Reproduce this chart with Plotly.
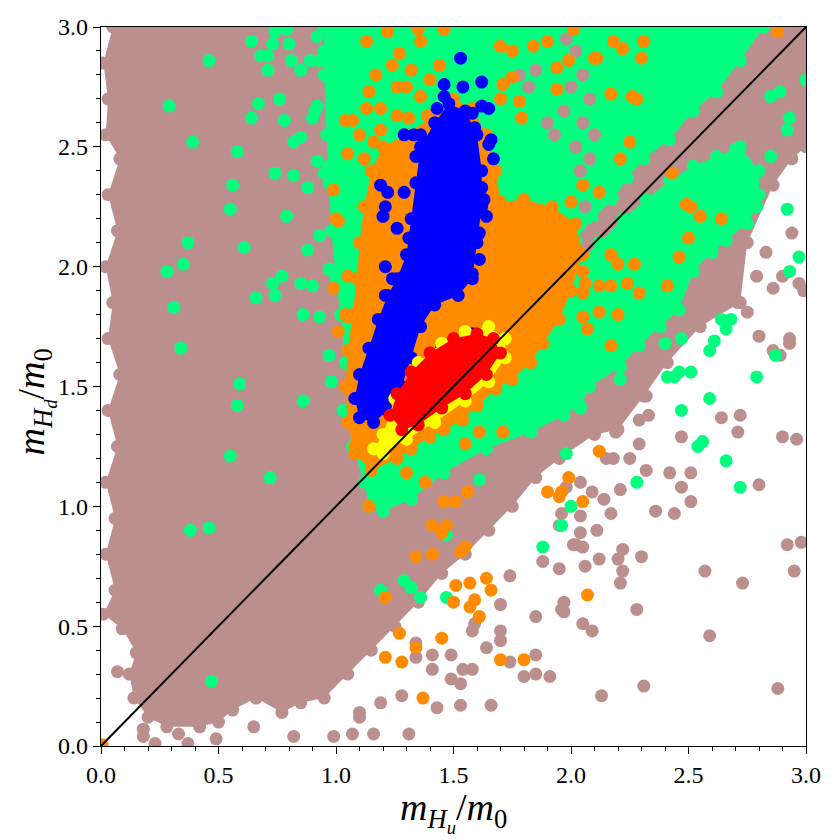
import plotly.graph_objects as go

# dense parts of each set, traced as outlines (x, y)
brown_cloud = [
    (0.05, 3.0), (0.01, 2.85), (0.03, 2.7), (0.02, 2.55), (0.08, 2.45), (0.03, 2.3),
    (0.07, 2.15), (0.02, 2.0), (0.05, 1.85), (0.03, 1.7), (0.08, 1.55), (0.03, 1.4),
    (0.07, 1.25), (0.02, 1.1), (0.06, 0.95), (0.02, 0.8), (0.06, 0.65), (0.01, 0.55),
    (0.09, 0.49), (0.15, 0.39), (0.12, 0.3), (0.14, 0.2), (0.2, 0.12), (0.28, 0.08),
    (0.42, 0.08), (0.5, 0.1), (0.56, 0.15), (0.66, 0.2), (0.77, 0.14), (0.85, 0.18),
    (0.95, 0.2), (1.05, 0.3), (1.15, 0.4), (1.25, 0.5), (1.35, 0.6), (1.45, 0.72),
    (1.55, 0.8), (1.65, 0.9), (1.75, 1.0), (1.85, 1.12), (1.95, 1.2), (2.1, 1.3),
    (2.2, 1.32), (2.31, 1.46), (2.41, 1.6), (2.55, 1.75), (2.72, 1.85), (2.75, 2.1),
    (2.86, 2.34), (2.94, 2.45), (3.0, 2.5), (3.0, 3.0),
]
green_cloud = [
    (0.95, 3.0), (2.82, 3.0), (2.72, 2.86), (2.62, 2.73), (2.52, 2.65), (2.42, 2.53),
    (2.31, 2.45), (2.24, 2.37), (2.18, 2.28), (2.09, 2.2), (2.02, 2.11), (1.97, 2.05),
    (1.98, 1.98), (2.02, 2.0), (2.12, 2.1), (2.22, 2.2), (2.32, 2.28), (2.42, 2.36),
    (2.52, 2.42), (2.62, 2.46), (2.72, 2.5), (2.8, 2.4), (2.8, 2.3), (2.79, 2.25),
    (2.75, 2.18), (2.66, 2.11), (2.6, 2.06), (2.52, 1.98), (2.46, 1.82), (2.38, 1.75),
    (2.29, 1.67), (2.21, 1.58), (2.08, 1.5), (2.04, 1.42), (1.97, 1.38), (1.83, 1.31),
    (1.64, 1.24), (1.46, 1.14), (1.32, 1.03), (1.2, 0.98), (1.14, 1.0), (1.12, 1.1),
    (1.07, 1.25), (1.05, 1.4), (1.04, 1.6), (1.02, 1.8), (1.0, 1.95), (0.98, 2.15),
    (0.97, 2.35), (0.96, 2.55), (0.95, 2.8),
]
orange_cloud = [
    (1.15, 1.15), (1.08, 1.22), (1.05, 1.35), (1.04, 1.5), (1.05, 1.65), (1.07, 1.8),
    (1.09, 1.95), (1.1, 2.1), (1.12, 2.25), (1.15, 2.4), (1.2, 2.5), (1.3, 2.55),
    (1.4, 2.62), (1.5, 2.7), (1.58, 2.66), (1.64, 2.55), (1.68, 2.4), (1.7, 2.27),
    (1.8, 2.28), (1.92, 2.25), (2.02, 2.18), (2.05, 2.05), (2.0, 1.9), (1.95, 1.78),
    (1.88, 1.68), (1.83, 1.6), (1.75, 1.53), (1.68, 1.49), (1.6, 1.42), (1.54, 1.36),
    (1.46, 1.32), (1.4, 1.29), (1.32, 1.24), (1.26, 1.2),
]
blue_cloud = [
    (1.1, 1.37), (1.16, 1.35), (1.22, 1.4), (1.28, 1.5), (1.32, 1.62), (1.36, 1.75),
    (1.42, 1.84), (1.52, 1.88), (1.58, 1.95), (1.6, 2.1), (1.62, 2.25), (1.62, 2.4),
    (1.6, 2.55), (1.55, 2.65), (1.48, 2.68), (1.42, 2.6), (1.36, 2.5), (1.34, 2.35),
    (1.32, 2.2), (1.3, 2.05), (1.26, 1.95), (1.22, 1.88), (1.18, 1.78), (1.14, 1.66),
    (1.1, 1.55), (1.08, 1.45),
]
yellow_cloud = [
    (1.16, 1.24), (1.2, 1.3), (1.25, 1.45), (1.35, 1.6), (1.45, 1.68), (1.55, 1.73),
    (1.65, 1.75), (1.72, 1.7), (1.72, 1.62), (1.65, 1.52), (1.55, 1.44), (1.42, 1.35),
    (1.3, 1.28), (1.2, 1.22),
]
red_cloud = [
    (1.23, 1.38), (1.26, 1.47), (1.32, 1.56), (1.4, 1.64), (1.5, 1.7), (1.6, 1.72),
    (1.67, 1.7), (1.7, 1.64), (1.64, 1.55), (1.55, 1.47), (1.45, 1.41), (1.35, 1.34),
    (1.28, 1.32),
]

# isolated points outside the dense parts
brown_pts = [
    (0.07, 0.31), (0.18, 0.04), (0.18, 0.07), (0.23, 0.01), (0.37, 0.01), (0.49, 0.03),
    (0.65, 0.08), (0.82, 0.04), (0.33, 0.05),
    (0.99, 0.04), (1.07, 0.05), (1.16, 0.05), (1.31, 0.05), (1.10, 0.12), (1.10, 0.14),
    (1.19, 0.18), (1.28, 0.21), (1.43, 0.16), (1.53, 0.17), (1.66, 0.17), (1.91, 0.29),
    (1.85, 0.30), (1.80, 0.29), (1.74, 0.35), (1.85, 0.38), (1.64, 0.41), (1.70, 0.44),
    (1.58, 0.32), (1.54, 0.32), (1.49, 0.28), (1.53, 0.26), (1.41, 0.32), (1.41, 0.38),
    (1.34, 0.37), (1.34, 0.43), (1.49, 0.38), (1.58, 0.48), (1.59, 0.51), (1.70, 0.48),
    (1.70, 0.59), (1.85, 0.54), (1.97, 0.56), (1.97, 0.60), (2.05, 0.51), (2.09, 0.48),
    (1.74, 0.71), (1.88, 0.77), (1.95, 0.74), (2.06, 0.75), (2.02, 0.84), (2.04, 0.89),
    (2.11, 0.90), (1.95, 0.92),
    (2.75, 1.81), (2.71, 1.85), (2.80, 1.71), (2.93, 1.70), (2.93, 1.68), (2.86, 1.65),
    (2.64, 1.37), (2.72, 1.38), (2.71, 1.31), (2.90, 1.29), (2.80, 1.09), (2.47, 1.29),
    (2.29, 1.26), (2.32, 1.15), (2.42, 1.14), (2.51, 1.14), (2.47, 1.08), (2.51, 1.02),
    (2.36, 0.98), (2.44, 0.97), (2.21, 1.07), (2.17, 0.97), (2.14, 1.03), (2.12, 0.78),
    (2.22, 0.82), (2.20, 0.78), (2.22, 0.73), (2.21, 0.68), (2.30, 0.79), (2.28, 0.57),
    (1.96, 0.57), (2.57, 0.73), (2.73, 0.68), (2.92, 0.84), (2.98, 0.85), (2.95, 0.73),
    (2.59, 0.46), (2.31, 0.25), (2.13, 0.21), (2.88, 0.24), (2.18, 1.20), (2.15, 1.20),
    (2.25, 1.20), (2.32, 1.46), (2.29, 1.36), (2.33, 1.38), (2.19, 1.31), (2.12, 1.33),
    (2.07, 1.35), (1.96, 1.34), (2.01, 0.84), (2.05, 0.83), (2.04, 0.96), (2.09, 1.06),
    (2.04, 1.10), (1.98, 1.08), (1.96, 0.97), (2.99, 1.90), (2.96, 1.28), (2.89, 1.63),
    (2.83, 2.06), (2.90, 1.96), (2.97, 1.93), (2.86, 1.91), (2.79, 1.96), (2.94, 2.14),
]
# brown showing through gaps of the green band at the top
brown_gaps = [
    (1.98, 2.95), (2.02, 2.90), (2.05, 2.80), (2.00, 2.75), (2.08, 2.70), (2.05, 2.60),
    (2.10, 2.55), (2.02, 2.50), (2.08, 2.45), (2.04, 2.40), (1.78, 2.80), (1.82, 2.75),
    (1.85, 2.82), (1.90, 2.60), (1.93, 2.55), (1.97, 2.65), (2.06, 2.25), (2.15, 2.22),
    (2.22, 2.26), (2.10, 2.16),
]
green_pts = [
    (0.46, 2.86), (0.29, 2.67), (0.39, 2.52), (0.58, 2.48), (0.56, 2.34), (0.55, 2.24),
    (0.37, 2.10), (0.61, 2.08), (0.35, 2.01), (0.28, 1.98), (0.31, 1.83), (0.66, 1.87),
    (0.74, 1.88), (0.73, 1.93), (0.77, 1.96), (0.85, 1.93), (0.90, 1.92), (0.79, 2.21),
    (0.74, 2.39), (0.82, 2.38), (0.88, 2.33), (0.88, 2.07), (0.93, 2.13), (0.97, 1.99),
    (0.86, 1.80), (0.93, 1.79), (0.64, 2.62), (0.67, 2.68), (0.76, 2.70), (0.78, 2.61),
    (0.64, 2.94), (0.68, 2.88), (0.71, 2.88), (0.74, 2.98), (0.79, 2.99), (0.73, 2.93),
    (0.80, 2.93), (0.71, 2.82), (0.81, 2.86), (0.85, 2.82), (0.89, 2.86), (0.82, 2.52),
    (0.85, 2.54), (0.92, 2.44), (0.90, 2.62), (0.92, 2.67), (0.93, 2.86), (0.95, 2.90),
    (0.92, 2.96), (0.97, 2.42), (0.95, 2.39), (0.91, 2.65),
    (0.34, 1.66), (0.59, 1.51), (0.58, 1.42), (0.86, 1.44), (0.55, 1.21), (0.72, 1.12),
    (0.38, 0.90), (0.46, 0.91), (0.97, 1.63), (0.98, 1.52), (1.03, 1.40), (0.47, 0.27),
    (1.98, 1.22), (1.61, 1.11), (2.0, 1.0), (1.96, 0.92), (1.88, 0.83), (1.47, 0.88),
    (1.29, 0.69), (1.32, 0.66), (1.19, 0.65), (1.36, 0.62), (1.47, 0.62),
    (2.64, 1.78), (2.68, 1.78), (2.66, 1.74), (2.61, 1.69), (2.59, 1.65), (2.47, 1.70),
    (2.40, 1.68), (2.51, 1.56), (2.46, 1.56), (2.41, 1.54), (2.44, 1.54), (2.59, 1.45),
    (2.47, 1.40), (2.87, 1.63), (2.79, 1.54), (2.56, 1.27), (2.54, 1.25), (2.66, 1.19),
    (2.72, 1.08), (2.28, 1.10), (2.04, 1.41), (2.21, 1.53),
    (2.92, 2.24), (2.97, 2.04), (2.93, 1.98), (2.85, 2.71), (2.89, 2.73), (2.93, 2.62),
    (2.92, 2.57), (3.0, 2.78), (2.85, 2.46), (2.70, 2.49),
]
orange_pts = [
    (0.005, 0.005),
    (1.14, 1.00), (1.38, 1.10), (1.56, 1.06), (1.46, 1.02), (1.51, 1.02), (1.30, 1.14),
    (1.41, 0.92), (1.47, 0.92), (1.45, 0.89), (1.55, 0.83), (1.53, 0.81), (1.41, 0.80),
    (1.34, 0.79), (1.51, 0.67), (1.57, 0.68), (1.64, 0.70), (1.66, 0.65), (1.50, 0.60),
    (1.59, 0.61), (1.57, 0.58), (1.61, 0.54), (1.21, 0.62), (1.27, 0.47), (1.34, 0.41),
    (1.45, 0.45), (1.21, 0.37), (1.28, 0.35), (1.37, 0.20), (1.70, 0.36), (1.80, 0.36),
    (2.07, 0.63), (1.99, 1.12), (1.90, 1.06), (1.95, 1.04), (2.05, 1.02), (2.12, 1.23),
    (1.55, 1.26), (1.61, 1.31), (1.71, 1.31), (1.96, 1.06),
    (2.17, 1.67), (2.20, 1.80), (2.12, 1.81), (2.07, 1.74), (2.05, 1.79),
    (2.88, 2.98), (2.31, 2.94), (2.18, 2.94), (2.22, 2.91), (2.11, 2.87), (2.30, 2.87),
    (2.17, 2.72), (2.26, 2.71), (2.28, 2.70), (2.25, 2.52), (2.21, 2.45), (2.05, 2.34),
    (2.12, 2.31), (2.43, 2.39), (2.49, 2.26), (2.51, 2.25), (2.55, 2.21), (2.64, 2.20),
    (2.50, 2.12), (2.46, 2.04), (2.41, 1.92), (2.17, 2.05), (2.20, 2.01), (2.27, 2.01),
    (2.05, 1.98), (2.12, 1.92), (2.17, 1.92), (2.24, 1.93), (2.29, 1.89), (2.05, 1.89),
    (1.13, 2.94), (1.22, 2.98), (1.35, 2.99), (1.46, 2.99), (1.27, 2.89), (1.36, 2.94),
    (1.44, 2.84), (1.70, 2.92), (1.75, 2.90), (1.84, 2.92), (1.90, 2.94), (2.01, 2.99),
    (1.99, 2.86), (2.10, 2.87), (1.94, 2.83), (1.75, 2.79), (1.71, 2.76), (1.70, 2.70),
    (1.78, 2.69), (1.94, 2.74), (1.79, 2.62), (1.14, 2.73), (1.26, 2.75), (1.30, 2.75),
    (1.36, 2.71), (1.13, 2.66), (1.19, 2.66), (1.26, 2.63), (1.31, 2.62), (1.39, 2.63),
    (1.07, 2.61), (1.19, 2.57), (1.12, 2.45), (1.05, 2.47), (0.99, 2.32), (1.00, 2.20),
    (0.99, 1.91), (1.05, 1.96), (2.00, 2.27), (2.06, 1.93), (1.98, 1.95),
    (1.04, 2.61), (1.01, 2.19), (1.04, 1.80), (1.05, 1.79), (1.01, 1.73), (1.08, 1.25),
    (1.17, 2.80), (1.24, 2.84), (1.10, 2.55), (1.16, 2.52), (1.32, 2.82), (1.40, 2.78),
]
blue_pts = [
    (1.53, 2.87), (1.46, 2.76), (1.54, 2.75), (1.62, 2.77), (1.65, 2.66), (1.62, 2.67),
    (1.58, 2.64), (1.43, 2.66), (1.46, 2.71), (1.29, 2.55), (1.33, 2.55), (1.36, 2.55),
    (1.39, 2.51), (1.34, 2.46), (1.59, 2.58), (1.66, 2.53), (1.65, 2.51), (1.67, 2.45),
    (1.62, 2.33), (1.63, 2.28), (1.64, 2.21), (1.19, 2.34), (1.22, 2.31), (1.21, 2.25),
    (1.20, 2.21), (1.26, 2.16), (1.29, 2.31), (1.31, 2.12), (1.21, 2.00), (1.24, 1.95),
    (1.29, 1.96), (1.21, 1.88), (1.61, 2.14), (1.61, 2.03), (1.58, 1.97),
    (1.33, 1.55), (1.45, 1.66), (1.58, 1.72),
]

# y = x reference line
diag_x = [0.0, 3.0]
diag_y = [0.0, 3.0]

xlabel = "<i>m</i><sub><i>H</i><sub><i>u</i></sub></sub>/<i>m</i><sub>0</sub>"
ylabel = "<i>m</i><sub><i>H</i><sub><i>d</i></sub></sub>/<i>m</i><sub>0</sub>"

BROWN = "#bc8f8f"
GREEN = "#00ff7f"
ORANGE = "#ff8c00"
BLUE = "#0000ff"
YELLOW = "#ffff00"
RED = "#ff0000"
MSIZE = 13
SERIF = "Liberation Serif"


def cloud(pts, color):
    return go.Scatter(
        x=[p[0] for p in pts], y=[p[1] for p in pts],
        mode="markers", fill="toself", fillcolor=color,
        marker=dict(size=MSIZE, color=color), line=dict(width=0),
        hoverinfo="skip", showlegend=False,
    )


def dots(pts, color):
    return go.Scatter(
        x=[p[0] for p in pts], y=[p[1] for p in pts],
        mode="markers", marker=dict(size=MSIZE, color=color),
        showlegend=False,
    )


fig = go.Figure()
fig.add_trace(cloud(brown_cloud, BROWN))
fig.add_trace(dots(brown_pts, BROWN))
fig.add_trace(cloud(green_cloud, GREEN))
fig.add_trace(dots(brown_gaps, BROWN))
fig.add_trace(dots(green_pts, GREEN))
fig.add_trace(cloud(orange_cloud, ORANGE))
fig.add_trace(dots(orange_pts, ORANGE))
fig.add_trace(cloud(blue_cloud, BLUE))
fig.add_trace(dots(blue_pts, BLUE))
fig.add_trace(cloud(yellow_cloud, YELLOW))
fig.add_trace(cloud(red_cloud, RED))
fig.add_trace(go.Scatter(x=diag_x, y=diag_y, mode="lines",
                         line=dict(color="black", width=2), showlegend=False))

axis_common = dict(
    range=[0, 3], dtick=0.5, tickformat=".1f", automargin=False,
    showgrid=False, zeroline=False,
    showline=True, linecolor="black", linewidth=1.2, mirror=True,
    ticks="outside", ticklen=7, tickwidth=1.2, tickcolor="black",
    minor=dict(ticks="outside", ticklen=4, tickwidth=1, tickcolor="black", dtick=0.1),
    tickfont=dict(family=SERIF, size=24, color="black"),
)
fig.update_xaxes(**axis_common)
fig.update_yaxes(**axis_common)

# axis titles as annotations so they sit where the reference has them
fig.add_annotation(text=xlabel, xref="paper", yref="paper", x=0.5, y=-0.092,
                   xanchor="center", yanchor="middle", showarrow=False,
                   font=dict(family=SERIF, size=38, color="black"))
fig.add_annotation(text=ylabel, xref="paper", yref="paper", x=-0.092, y=0.478,
                   xanchor="center", yanchor="middle", textangle=-90, showarrow=False,
                   font=dict(family=SERIF, size=38, color="black"))

fig.update_layout(
    width=840, height=840,
    margin=dict(l=93, r=42, t=19, b=102),
    plot_bgcolor="white", paper_bgcolor="white",
)
fig.write_html("out.html")
